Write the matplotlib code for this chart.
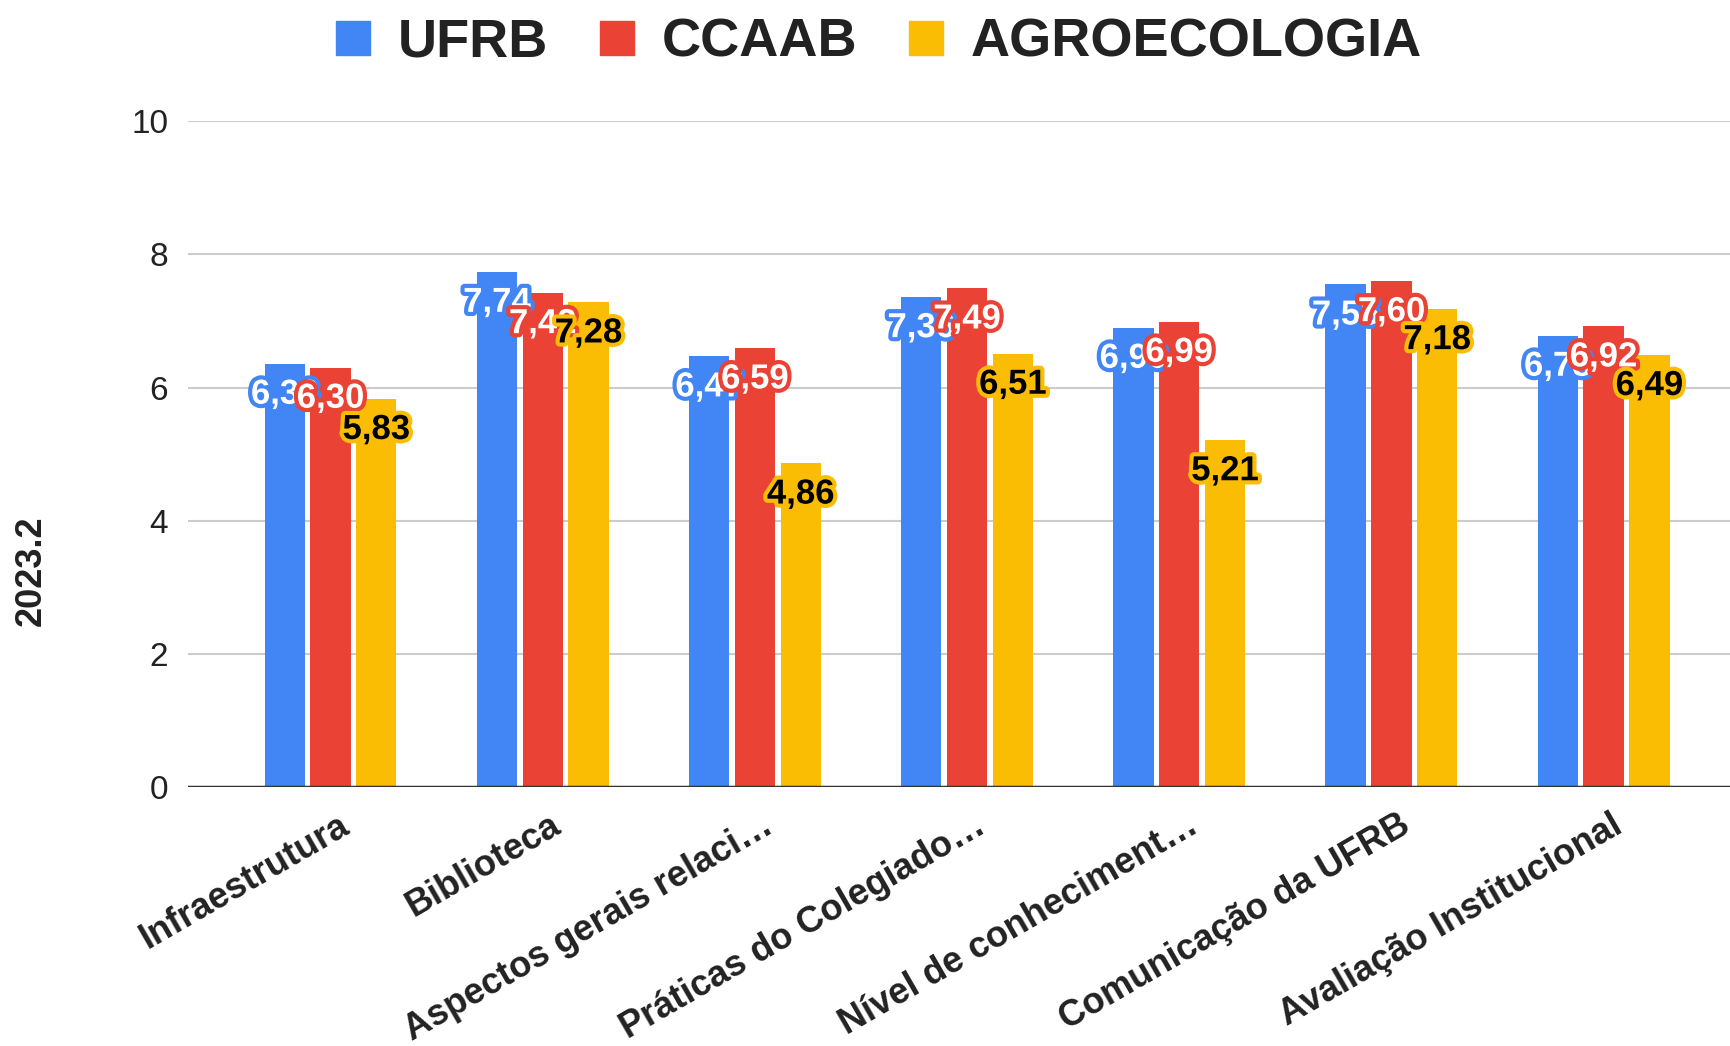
import numpy as np
import matplotlib
matplotlib.use('Agg')
import matplotlib.pyplot as plt
import matplotlib.patheffects as pe
import matplotlib.transforms as mtransforms
from matplotlib.lines import Line2D

plt.rcParams['font.family'] = ['Liberation Sans', 'DejaVu Sans']

# Dados
categorias = ['Infraestrutura', 'Biblioteca', 'Aspectos gerais relaci…',
              'Práticas do Colegiado…', 'Nível de conheciment…',
              'Comunicação da UFRB', 'Avaliação Institucional']
ufrb = [6.36, 7.74, 6.47, 7.36, 6.90, 7.55, 6.78]
ccaab = [6.30, 7.42, 6.59, 7.49, 6.99, 7.60, 6.92]
agroecologia = [5.83, 7.28, 4.86, 6.51, 5.21, 7.18, 6.49]
series_nomes = ['UFRB', 'CCAAB', 'AGROECOLOGIA']
y_ticks = [0, 2, 4, 6, 8, 10]

cores = ['#4285F4', '#EA4335', '#FBBC04']
cores_texto = ['white', 'white', 'black']

fig = plt.figure(figsize=(17.3, 10.46), dpi=100)
ax = fig.add_axes([0.1085, 0.2476, 0.8915, 0.6364])

x = np.arange(len(categorias))
largura = 0.19
passo = 0.216

for i, (vals, cor, ct) in enumerate(zip([ufrb, ccaab, agroecologia], cores, cores_texto)):
    pos = x + (i - 1) * passo
    ax.bar(pos, vals, width=largura, color=cor, zorder=3)
    for xp, v in zip(pos, vals):
        ax.annotate(f'{v:.2f}'.replace('.', ','), (xp, v), xytext=(0, -22),
                    textcoords='offset points', ha='center', va='center',
                    fontsize=25, fontweight='bold', color=ct, zorder=10 + i,
                    path_effects=[pe.Stroke(linewidth=6, foreground=cor), pe.Normal()])

ax.set_ylim(0, 10)
ax.set_xlim(-0.673, 6.596)
ax.set_yticks(y_ticks)
ax.set_yticklabels([str(t) for t in y_ticks], fontsize=24, color='#222222')
ax.tick_params(axis='y', length=0, pad=14)
ax.grid(axis='y', color='#cccccc', linewidth=1.5, zorder=0)
ax.axhline(0, color='#333333', linewidth=2.5, zorder=4)

ax.set_xticks(x)
ax.set_xticklabels(categorias, rotation=30, ha='right', rotation_mode='anchor',
                   fontsize=26, fontweight='bold', color='#222222')
ax.tick_params(axis='x', length=0, pad=15)
desloc = mtransforms.ScaledTranslation(5 / 72, 0, fig.dpi_scale_trans)
for lbl in ax.get_xticklabels():
    lbl.set_transform(lbl.get_transform() + desloc)

for s in ax.spines.values():
    s.set_visible(False)

fig.text(0.018, 0.454, '2023.2', rotation=90, ha='center', va='center',
         fontsize=26, fontweight='bold', color='#222222')

handles = [Line2D([], [], marker='s', linestyle='', markersize=25, color=c) for c in cores]
fig.legend(handles, series_nomes, loc='center', bbox_to_anchor=(0.508, 0.959), ncol=3,
           frameon=False, prop={'size': 39, 'weight': 'bold'}, labelcolor='#222222',
           handlelength=0.65, handletextpad=0.5, columnspacing=0.95)

plt.savefig('out.png', dpi=100)
